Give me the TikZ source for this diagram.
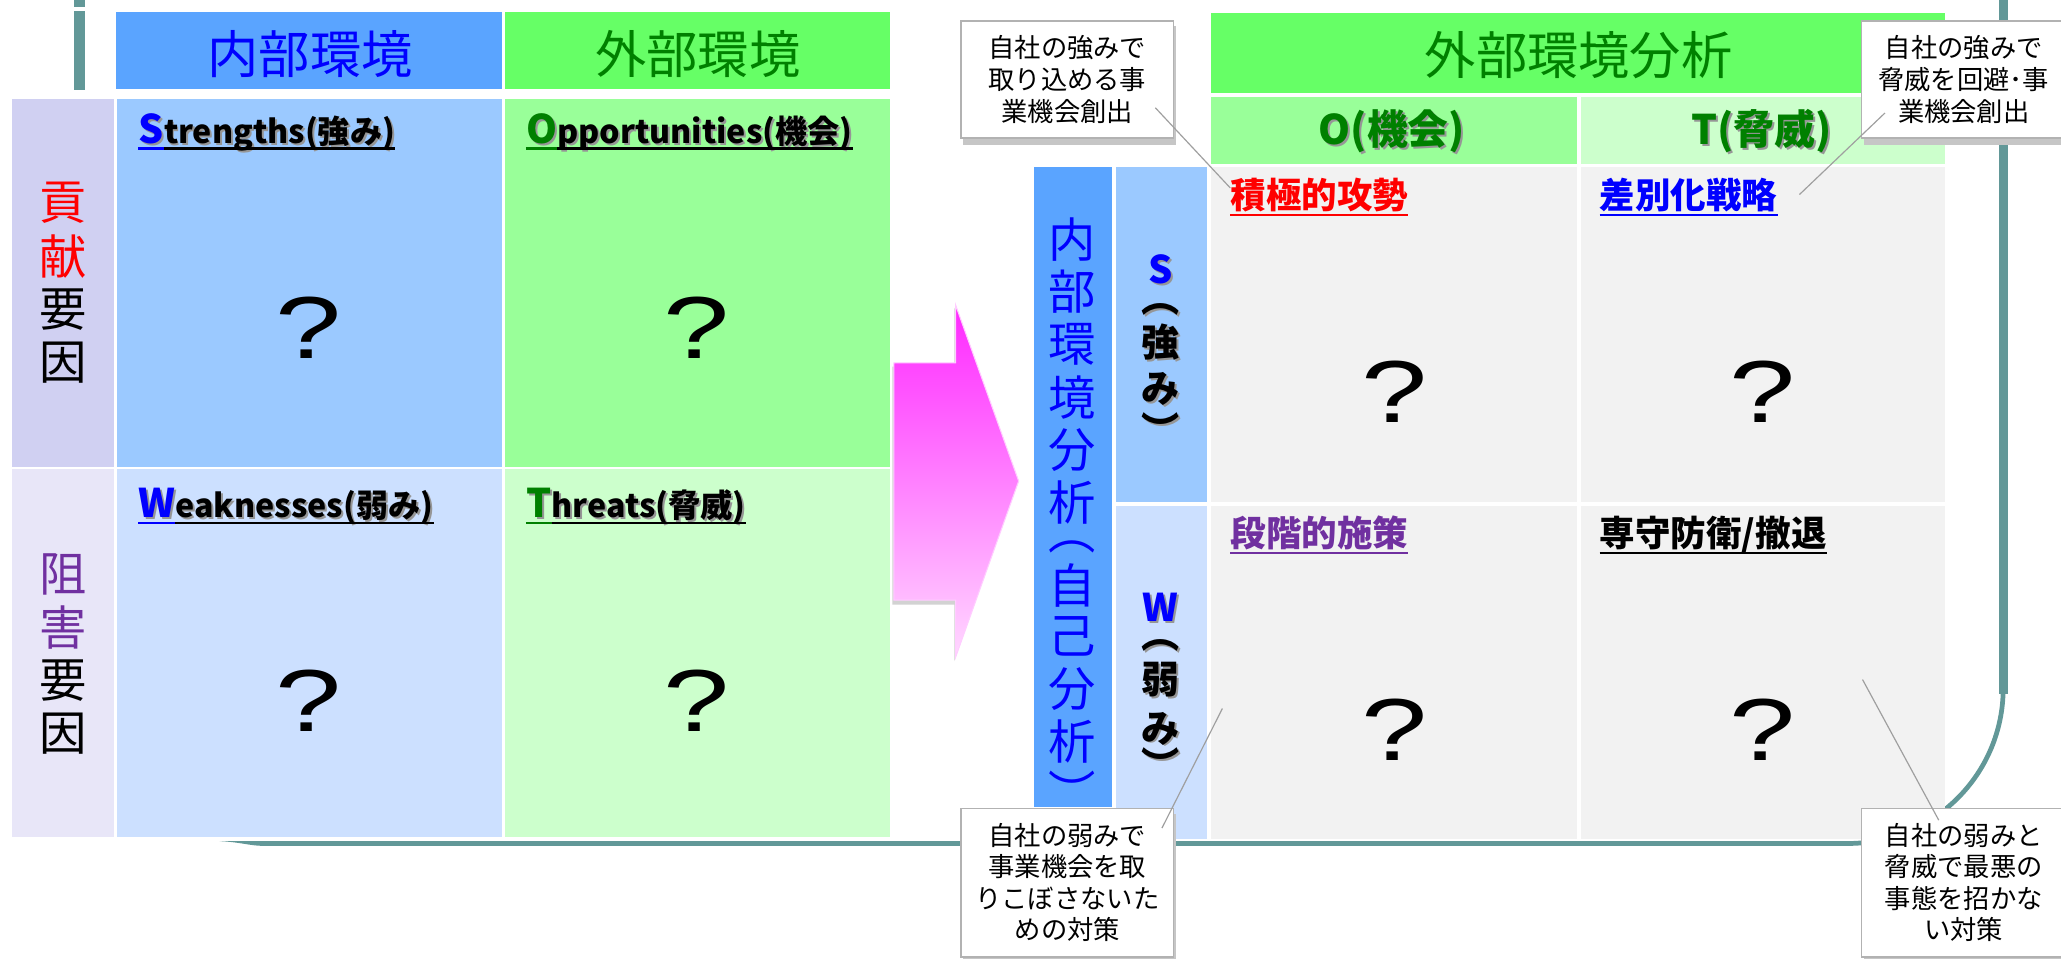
\documentclass[tikz,border=0pt]{standalone}
\usepackage{fontspec}
\setmainfont{Noto Sans CJK JP}
\newfontfamily\qfont{Liberation Sans}
\usetikzlibrary{calc}
\definecolor{hblue}{RGB}{90,164,255}
\definecolor{hgreen}{RGB}{102,255,102}
\definecolor{cblue}{RGB}{155,201,255}
\definecolor{cgreen}{RGB}{153,255,153}
\definecolor{cblue2}{RGB}{204,224,255}
\definecolor{cgreen2}{RGB}{204,255,204}
\definecolor{lav1}{RGB}{208,208,242}
\definecolor{lav2}{RGB}{232,230,248}
\definecolor{cgray}{RGB}{242,242,242}
\definecolor{teal1}{RGB}{98,152,152}
\definecolor{dgreen}{RGB}{0,128,0}
\definecolor{purp}{RGB}{112,48,160}
\definecolor{pinkA}{RGB}{255,40,255}
\definecolor{pinkB}{RGB}{255,216,255}
\definecolor{pinkE}{RGB}{255,205,255}
\definecolor{shd}{RGB}{150,150,150}
% a glyph centred on the baseline, with no height or depth
\newcommand\vc[1]{\smash{\raisebox{\dimexpr(\fontchardp\font`#1-\fontcharht\font`#1)/2\relax}{#1}}}
\tikzset{
  hdr/.style={font=\fontsize{39}{39}\selectfont, inner sep=0},
  qm/.style={font=\qfont\fontsize{67}{67}\selectfont, inner sep=0},
  lab/.style={font=\bfseries\fontsize{24.5}{25}\selectfont, inner sep=0, anchor=base west},
  labbig/.style={font=\bfseries\fontsize{30}{30}\selectfont, inner sep=0, anchor=base west},
  clab/.style={font=\bfseries\fontsize{27}{27}\selectfont, inner sep=0, anchor=base west},
  olab/.style={font=\bfseries\fontsize{31}{31}\selectfont, inner sep=0},
  vcol/.style={font=\fontsize{36}{40}\selectfont, inner sep=0, align=center, anchor=north},
  vbcol/.style={font=\bfseries\fontsize{29}{30}\selectfont, inner sep=0, align=center, anchor=north},
  callout/.style={draw=gray!60, fill=white, line width=1pt, align=center,
     font=\fontsize{20}{24}\selectfont, inner sep=0},
  cshadow/.style={fill=gray!45},
  ptr/.style={draw=gray!75, line width=0.9pt},
  uline/.style={line width=1.6pt}
}
\newcommand\swl[6]{%
  \node[labbig,text=shd] (#1s1) at (#2+1.5,#3+1.5) {#5};
  \node[lab,text=shd] (#1s2) at (#1s1.base east) {#6};
  \node[labbig,text=#4] (#1a) at (#2,#3) {#5};
  \node[lab] (#1b) at (#1a.base east) {#6};
  \draw[#4,uline] ($(#1a.base west)+(0,4)$) -- ($(#1a.base east)+(0,4)$);
  \draw[black,uline] ($(#1b.base west)+(0,4)$) -- ($(#1b.base east)+(0,4)$);
}
\begin{document}
\begin{tikzpicture}[x=1pt,y=-1pt]
\useasboundingbox (0,0) rectangle (1568,729);
\fill[white] (0,0) rectangle (1568,729);
% background frame
\fill[teal1] (56,0) rectangle (65,5.5);
\fill[teal1] (56,8.5) rectangle (65,68.5);
\draw[teal1, line width=3.6pt, rounded corners=118pt] (1524,-5) -- (1524,641.7) -- (198,641.7);
\draw[teal1, line width=6.8pt] (1524,-5) -- (1524,528);
\fill[teal1] (167,639.9) .. controls (182,640.6) and (190,643.3) .. (199,643.5) -- (199,639.9) -- cycle;

% ===== left panel =====
\fill[hblue] (88,9) rectangle (382,68);
\fill[hgreen] (384,9) rectangle (677,68);
\node[hdr,text=blue] (hin) at (236,41) {内部環境};
\node[hdr,text=dgreen] (hout) at (531,41) {外部環境};
\fill[lav1] (9,75) rectangle (87,355);
\fill[lav2] (9,357) rectangle (87,637);
\fill[cblue] (89,75) rectangle (382,355);
\fill[cgreen] (384,75) rectangle (677,355);
\fill[cblue2] (89,357) rectangle (382,637);
\fill[cgreen2] (384,357) rectangle (677,637);

\node[vcol,font=\fontsize{36}{40.6}\selectfont] (kouken) at (48,154)
  {\textcolor{red}{\vc{貢}}\\\textcolor{red}{\vc{献}}\\\vc{要}\\\vc{因}};
\node[vcol,font=\fontsize{36}{40.4}\selectfont] (sogai) at (48,437)
  {\textcolor{purp}{\vc{阻}}\\\textcolor{purp}{\vc{害}}\\\vc{要}\\\vc{因}};

\swl{ls}{105}{109}{blue}{S}{trengths(強み)}
\swl{lo}{400}{109}{dgreen}{O}{pportunities(機会)}
\swl{lw}{105}{394}{blue}{W}{eaknesses(弱み)}
\swl{lt}{400}{394}{dgreen}{T}{hreats(脅威)}

\node[qm] (q1) at (235,249) {\scalebox{1.35}[1]{?}};
\node[qm] (q2) at (530,249) {\scalebox{1.35}[1]{?}};
\node[qm] (q3) at (235,533) {\scalebox{1.35}[1]{?}};
\node[qm] (q4) at (530,533) {\scalebox{1.35}[1]{?}};

% ===== arrow =====
\fill[gray!35] (679,279) -- (726,279) -- (726,234) -- (773,369) -- (726,503) -- (726,460) -- (679,460) -- cycle;
\shade[top color=pinkA, bottom color=pinkB] (680,276) -- (727,276) -- (727,232) -- (775,366) -- (727,500) -- (727,456.5) -- (680,456.5) -- cycle;
\draw[pinkE, line width=0.8pt, line join=miter] (680,276) -- (727,276) -- (727,232) -- (775,366) -- (727,500) -- (727,456.5) -- (680,456.5) -- cycle;

% ===== right panel =====
\fill[hgreen] (921,10) rectangle (1480,71);
\node[hdr,text=dgreen] (hana) at (1201,42) {外部環境分析};
\fill[cgreen] (921,74) rectangle (1200,125);
\fill[cgreen2] (1203,74) rectangle (1480,125);
\node[olab,text=shd] (hos) at (1060.5,101.5) {O(機会)};
\node[olab,text=dgreen] (ho) at (1059,100) {O(機会)};
\node[olab,text=shd] (hts) at (1341.5,101.5) {T(脅威)};
\node[olab,text=dgreen] (ht) at (1340,100) {T(脅威)};

\fill[hblue] (787,127) rectangle (846,614);
\fill[cblue] (849,127) rectangle (918,382);
\fill[cblue2] (849,385) rectangle (918,638);
\fill[cgray] (921,127) rectangle (1200,382);
\fill[cgray] (1203,127) rectangle (1480,382);
\fill[cgray] (921,385) rectangle (1200,638);
\fill[cgray] (1203,385) rectangle (1480,638);

\node[vcol,text=blue] (naibu) at (816,182)
  {\vc{内}\\\vc{部}\\\vc{環}\\\vc{境}\\\vc{分}\\\vc{析}\\[-6pt]\vc{︵}\\[-11pt]\vc{自}\\[-1pt]\vc{己}\\\vc{分}\\\vc{析}\\[-13pt]\vc{︶}};

\node[vbcol,text=shd] (vss) at (884.5,206.5)
  {\vc{S}\\\vc{︵}\\[-5pt]\vc{強}\\[6pt]\vc{み}\\[-8pt]\vc{︶}};
\node[vbcol] (vs) at (883,205)
  {\textcolor{blue}{\vc{S}}\\\vc{︵}\\[-5pt]\vc{強}\\[6pt]\vc{み}\\[-8pt]\vc{︶}};
\node[vbcol,text=shd] (vws) at (884.5,463.5)
  {\vc{W}\\[-1pt]\vc{︵}\\[-4pt]\vc{弱}\\[7pt]\vc{み}\\[-11pt]\vc{︶}};
\node[vbcol] (vw) at (883,462)
  {\textcolor{blue}{\vc{W}}\\[-1pt]\vc{︵}\\[-4pt]\vc{弱}\\[7pt]\vc{み}\\[-11pt]\vc{︶}};

\node[clab,text=red] (s1) at (936,159) {積極的攻勢};
\draw[red,uline] ($(s1.base west)+(0,4.5)$) -- ($(s1.base east)+(0,4.5)$);
\node[clab,text=blue] (s2) at (1217,159) {差別化戦略};
\draw[blue,uline] ($(s2.base west)+(0,4.5)$) -- ($(s2.base east)+(0,4.5)$);
\node[clab,text=purp] (s3) at (936,416) {段階的施策};
\draw[purp,uline] ($(s3.base west)+(0,4.5)$) -- ($(s3.base east)+(0,4.5)$);
\node[clab,text=black] (s4) at (1217,416) {専守防衛/撤退};
\draw[black,uline] ($(s4.base west)+(0,4.5)$) -- ($(s4.base east)+(0,4.5)$);

\node[qm] (q5) at (1061,298) {\scalebox{1.35}[1]{?}};
\node[qm] (q6) at (1341,298) {\scalebox{1.35}[1]{?}};
\node[qm] (q7) at (1061,555) {\scalebox{1.35}[1]{?}};
\node[qm] (q8) at (1341,555) {\scalebox{1.35}[1]{?}};

% ===== callouts =====
\fill[cshadow] (733,20) rectangle (895,110);
\fill[cshadow] (1418,20) rectangle (1572,110);
\fill[cshadow] (733,619) rectangle (895,733);
\fill[cshadow] (1418,619) rectangle (1572,733);
\node[callout, minimum width=162pt, minimum height=89pt] (c1) at (812,60.5) {自社の強みで\\取り込める事\\業機会創出};
\node[callout, minimum width=156pt, minimum height=89pt] (c2) at (1494,60.5) {自社の強みで\\脅威を回避･事\\業機会創出};
\node[callout, minimum width=162pt, minimum height=113pt] (c3) at (812,671.5) {自社の弱みで\\事業機会を取\\りこぼさないた\\めの対策};
\node[callout, minimum width=156pt, minimum height=113pt] (c4) at (1494,671.5) {自社の弱みと\\脅威で最悪の\\事態を招かな\\い対策};

\coordinate (t1) at (936,143);
\coordinate (t2) at (1369,148);
\coordinate (t3) at (930,539);
\coordinate (t4) at (1417,517);
\draw[ptr] ($(c1.center)+(67,21.5)$) -- (t1);
\draw[ptr] ($(c2.center)+(-60,25.5)$) -- (t2);
\draw[ptr] ($(c3.center)+(72,-41.5)$) -- (t3);
\draw[ptr] ($(c4.center)+(-19,-47.5)$) -- (t4);
\end{tikzpicture}
\end{document}
